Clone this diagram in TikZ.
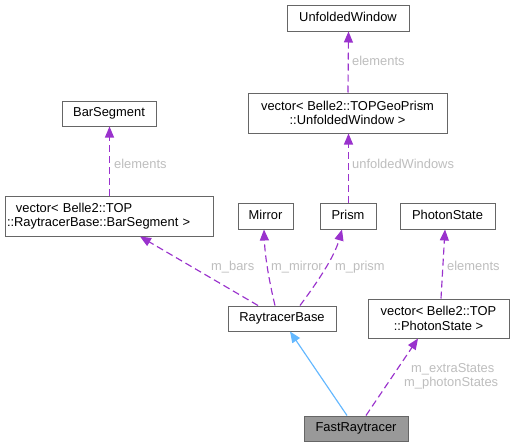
\documentclass[tikz,border=0pt]{standalone}
\usepackage{fontspec}
\setmainfont{Liberation Sans}
\usetikzlibrary{arrows.meta}
\definecolor{edgep}{HTML}{9A32CD}
\definecolor{edgeb}{HTML}{63B8FF}
\definecolor{boxline}{HTML}{666666}
\definecolor{lbl}{HTML}{BEBEBE}
\definecolor{fillg}{HTML}{999999}
\begin{document}
\begin{tikzpicture}[x=1pt,y=-1pt,
  box/.style={draw=boxline, line width=1pt, fill=white, inner sep=0pt,
    font=\fontsize{12.9}{14.4}\selectfont, align=center},
  one/.style={text height=9.3pt, text depth=2.7pt},
  uses/.style={edgep, line width=1.15pt, dash pattern=on 7pt off 4pt,
    -{Triangle[length=11pt,width=9pt]}},
  inh/.style={edgeb, line width=1.15pt, -{Triangle[length=11pt,width=9pt]}},
  lab/.style={lbl, font=\fontsize{12.9}{14.4}\selectfont, inner sep=0pt, anchor=base west}]
\fill[white] (0,0) rectangle (514,447);
\useasboundingbox (0,0) rectangle (514,447);

\node[box,one,minimum width=122pt,minimum height=26pt] (UW) at (348,18) {UnfoldedWindow};
\node[box,minimum width=199pt,minimum height=40pt] (UWV) at (347.5,113) {vector< Belle2::TOPGeoPrism\\::UnfoldedWindow >};
\node[box,one,minimum width=94pt,minimum height=25pt] (BS) at (109,113.5) {BarSegment};
\node[box,minimum width=208pt,minimum height=40pt,text width=204pt,inner xsep=2pt,align=left] (BSV) at (109,216) {\hspace*{9pt}vector< Belle2::TOP\\::RaytracerBase::BarSegment >};
\node[box,one,minimum width=55pt,minimum height=26pt] (Mirror) at (265.5,216) {Mirror};
\node[box,one,minimum width=56pt,minimum height=26pt] (Prism) at (348,216) {Prism};
\node[box,one,minimum width=95pt,minimum height=26pt] (PS) at (447.5,216) {PhotonState};
\node[box,one,minimum width=108pt,minimum height=25pt] (RB) at (282,318.5) {RaytracerBase};
\node[box,minimum width=141pt,minimum height=39pt] (PSV) at (438.5,318.5) {vector< Belle2::TOP\\::PhotonState >};
\node[box,one,fill=fillg,minimum width=104pt,minimum height=25pt] (FR) at (356,428.5) {FastRaytracer};

\draw[uses] ([xshift=0.5pt]UWV.north) -- ([xshift=0.5pt]UW.south);
\draw[uses] ([xshift=0.5pt]Prism.north) -- ([xshift=1pt]UWV.south);
\draw[uses] ([xshift=0.5pt]BSV.north) -- ([xshift=0.5pt]BS.south);
\draw[uses] ([xshift=-24pt]RB.north) -- ([xshift=31pt]BSV.south);
\draw[uses] ([xshift=-7pt]RB.north) .. controls (270,285) and (265,258) .. ([xshift=-1.5pt]Mirror.south);
\draw[uses] ([xshift=18pt]RB.north) .. controls (316,284) and (334,258) .. ([xshift=-6pt]Prism.south);
\draw[uses] ([xshift=2.5pt]PSV.north) -- ([xshift=-2.5pt]PS.south);
\draw[inh] ([xshift=-9pt]FR.north) -- ([xshift=8pt]RB.south);
\draw[uses] ([xshift=10pt]FR.north) -- ([xshift=-20.5pt]PSV.south);

\node[lab] (l1) at (352,65) {elements};
\node[lab] (l2) at (352,168) {unfoldedWindows};
\node[lab] (l3) at (114,168) {elements};
\node[lab] (l4) at (211,270) {m\_bars};
\node[lab] (l5) at (271,270) {m\_mirror};
\node[lab] (l6) at (335,270) {m\_prism};
\node[lab] (l7) at (447,270) {elements};
\node[lab] (l8) at (411,372.7) {m\_extraStates};
\node[lab] (l9) at (404,386.7) {m\_photonStates};
\end{tikzpicture}
\end{document}
